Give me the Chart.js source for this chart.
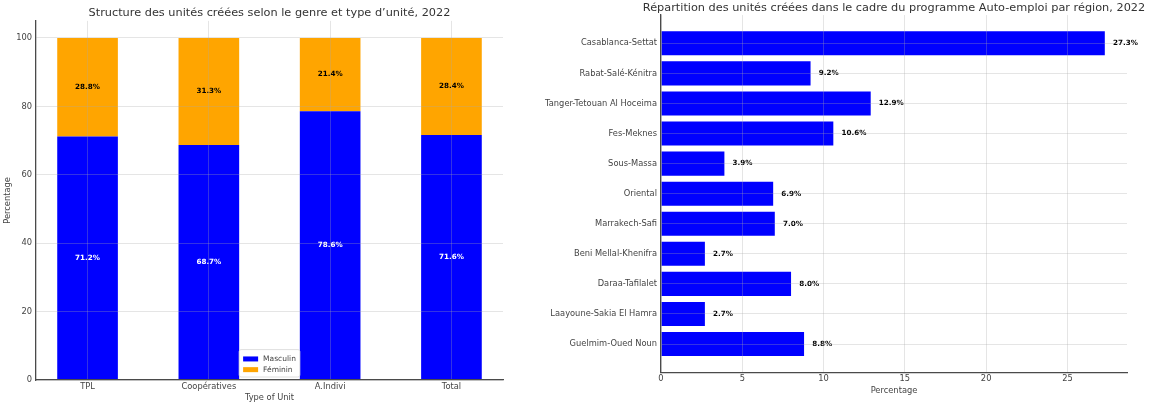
<!DOCTYPE html>
<html>
<head>
<meta charset="utf-8">
<script src="https://cdn.jsdelivr.net/npm/chart.js@4"></script>
<style>
  html, body { margin: 0; padding: 0; background: #fff; }
  #gauche { position: absolute; left: 0; top: 0; width: 530px; height: 404px; }
  #droite { position: absolute; left: 540px; top: 0; width: 615px; height: 404px; }
</style>
</head>
<body>
<div id="gauche"><canvas id="genre"></canvas></div>
<div id="droite"><canvas id="regions"></canvas></div>
<script>
// Structure par genre et type d'unité (%)
const typesUnite = ['TPL', 'Coopératives', 'A.Indivi', 'Total'];
const masculin = [71.2, 68.7, 78.6, 71.6];
const feminin = [28.8, 31.3, 21.4, 28.4];

// Répartition par région (%)
const regions = [
    'Casablanca-Settat',
    'Rabat-Salé-Kénitra',
    'Tanger-Tetouan Al Hoceima',
    'Fes-Meknes',
    'Sous-Massa',
    'Oriental',
    'Marrakech-Safi',
    'Beni Mellal-Khenifra',
    'Daraa-Tafilalet',
    'Laayoune-Sakia El Hamra',
    'Guelmim-Oued Noun'
];
const partsRegion = [27.3, 9.2, 12.9, 10.6, 3.9, 6.9, 7.0, 2.7, 8.0, 2.7, 8.8];

const BLEU = '#0000ff';
const ORANGE = '#ffa500';
const GRILLE = 'rgba(170, 170, 170, 0.3)';
const AXE = '#4a4a4a';

Chart.defaults.font.family = '"DejaVu Sans", sans-serif';
Chart.defaults.color = '#444';

// pourcentages au milieu de chaque segment empilé
const etiquettesEmpilees = {
    id: 'etiquettesEmpilees',
    afterDatasetsDraw(chart) {
        const ctx = chart.ctx;
        ctx.save();
        ctx.font = 'bold 7.2px "DejaVu Sans"';
        ctx.textAlign = 'center';
        ctx.textBaseline = 'middle';
        chart.data.datasets.forEach((ds, d) => {
            ctx.fillStyle = d === 0 ? '#fff' : '#000';
            chart.getDatasetMeta(d).data.forEach((barre, i) => {
                const valeur = ds.data[i].y;
                ctx.fillText(valeur.toFixed(1) + '%', barre.x, (barre.y + barre.base) / 2);
            });
        });
        ctx.restore();
    }
};

// légende dans la zone du graphique, en bas au centre
const legendeInterne = {
    id: 'legendeInterne',
    afterDraw(chart) {
        const ctx = chart.ctx;
        const zone = chart.chartArea;
        const taille = 7.5;
        const pad = 4, carre = 15, ecart = 5, ligne = 10.7;
        ctx.save();
        ctx.font = taille + 'px "DejaVu Sans"';
        const items = chart.data.datasets;
        const largeurTexte = Math.max(...items.map(ds => ctx.measureText(ds.label).width));
        const w = pad + carre + ecart + largeurTexte + pad;
        const h = pad + items.length * ligne + pad / 2;
        const x0 = (zone.left + zone.right) / 2 - w / 2;
        const y0 = zone.bottom - 3 - h;

        ctx.fillStyle = 'rgba(255, 255, 255, 0.85)';
        ctx.strokeStyle = '#d5d5d5';
        ctx.lineWidth = 0.8;
        ctx.beginPath();
        ctx.roundRect(x0, y0, w, h, 2);
        ctx.fill();
        ctx.stroke();

        ctx.textAlign = 'left';
        ctx.textBaseline = 'middle';
        items.forEach((ds, i) => {
            const yc = y0 + pad + ligne * i + ligne / 2;
            ctx.fillStyle = ds.backgroundColor;
            ctx.fillRect(x0 + pad, yc - 2.5, carre, 5);
            ctx.fillStyle = '#444';
            ctx.fillText(ds.label, x0 + pad + carre + ecart, yc);
        });
        ctx.restore();
    }
};

// valeur affichée à droite de chaque barre horizontale
const etiquettesRegions = {
    id: 'etiquettesRegions',
    afterDatasetsDraw(chart) {
        const ctx = chart.ctx;
        const echelleX = chart.scales.x;
        ctx.save();
        ctx.font = 'bold 7.2px "DejaVu Sans"';
        ctx.fillStyle = '#000';
        ctx.textAlign = 'left';
        ctx.textBaseline = 'middle';
        chart.getDatasetMeta(0).data.forEach((barre, i) => {
            const valeur = partsRegion[i];
            ctx.fillText(valeur.toFixed(1) + '%', echelleX.getPixelForValue(valeur + 0.5), barre.y);
        });
        ctx.restore();
    }
};

// le titre long déborde un peu de la zone du graphique : on élargit sa boîte
// pour qu'il ne soit pas compressé, tout en le gardant centré sur le graphique
const titreLarge = {
    id: 'titreLarge',
    afterLayout(chart) {
        const t = chart.titleBlock;
        t.left -= 40;
        t.right += 40;
        t.width = t.right - t.left;
    }
};

// grille par-dessus les barres, axes gauche et bas seulement
const grille = { z: 1, color: GRILLE, drawTicks: false, offset: false };
const bordure = { z: 2, color: AXE, width: 1.3 };
const police = { size: 8.3 };

new Chart(document.querySelector('#genre'), {
    type: 'bar',
    data: {
        datasets: [
            {
                label: 'Masculin',
                data: masculin.map((v, i) => ({ x: i, y: v })),
                backgroundColor: BLEU
            },
            {
                label: 'Féminin',
                data: feminin.map((v, i) => ({ x: i, y: v })),
                backgroundColor: ORANGE
            }
        ]
    },
    options: {
        responsive: true,
        maintainAspectRatio: false,
        animation: false,
        layout: { padding: { right: 27 } },
        datasets: { bar: { categoryPercentage: 1, barPercentage: 0.5 } },
        plugins: {
            legend: { display: false },
            tooltip: { enabled: false },
            title: {
                display: true,
                fullSize: false,
                text: 'Structure des unités créées selon le genre et type d\u2019unité, 2022',
                color: '#333',
                font: { size: 11.3, weight: 'normal' },
                padding: { top: 6, bottom: 1.3 }
            }
        },
        scales: {
            x: {
                type: 'linear',
                stacked: true,
                offset: false,
                min: -0.425,
                max: 3.425,
                afterFit: (s) => { s.height = 24; },
                ticks: {
                    stepSize: 1,
                    includeBounds: false,
                    autoSkip: false,
                    maxRotation: 0,
                    padding: 2,
                    font: police,
                    callback: (v) => typesUnite[v] ?? ''
                },
                grid: grille,
                border: bordure,
                title: {
                    display: true,
                    text: 'Type of Unit',
                    font: police,
                    padding: { top: 0, bottom: 1 }
                }
            },
            y: {
                stacked: true,
                min: 0,
                max: 105,
                afterFit: (s) => { s.width = 36; },
                ticks: { stepSize: 20, includeBounds: false, padding: 4, font: police },
                grid: grille,
                border: bordure,
                title: {
                    display: true,
                    text: 'Percentage',
                    font: police,
                    padding: { top: 3, bottom: 0 }
                }
            }
        }
    },
    plugins: [etiquettesEmpilees, legendeInterne]
});

new Chart(document.querySelector('#regions'), {
    type: 'bar',
    data: {
        datasets: [
            {
                label: 'Part des unités créées',
                data: partsRegion.map((v, i) => ({ x: v, y: i })),
                backgroundColor: BLEU
            }
        ]
    },
    options: {
        indexAxis: 'y',
        responsive: true,
        maintainAspectRatio: false,
        animation: false,
        layout: { padding: { right: 28 } },
        datasets: { bar: { categoryPercentage: 1, barPercentage: 0.8 } },
        plugins: {
            legend: { display: false },
            tooltip: { enabled: false },
            title: {
                display: true,
                fullSize: false,
                text: 'Répartition des unités créées dans le cadre du programme Auto-emploi par région, 2022',
                color: '#333',
                font: { size: 11.3, weight: 'normal' },
                padding: { top: 1, bottom: 0.5 }
            }
        },
        scales: {
            x: {
                type: 'linear',
                min: 0,
                max: Math.max(...partsRegion) * 1.05,
                afterFit: (s) => { s.height = 31.7; },
                ticks: { stepSize: 5, includeBounds: false, maxRotation: 0, padding: 2, font: police },
                grid: grille,
                border: bordure,
                title: {
                    display: true,
                    text: 'Percentage',
                    font: police,
                    padding: { top: 0, bottom: 8 }
                }
            },
            y: {
                type: 'linear',
                reverse: true,
                offset: false,
                min: -0.94,
                max: 10.94,
                afterFit: (s) => { s.width = 121; },
                ticks: {
                    stepSize: 1,
                    includeBounds: false,
                    autoSkip: false,
                    padding: 4,
                    font: police,
                    callback: (v) => regions[v] ?? ''
                },
                grid: grille,
                border: bordure
            }
        }
    },
    plugins: [etiquettesRegions, titreLarge]
});
</script>
</body>
</html>
